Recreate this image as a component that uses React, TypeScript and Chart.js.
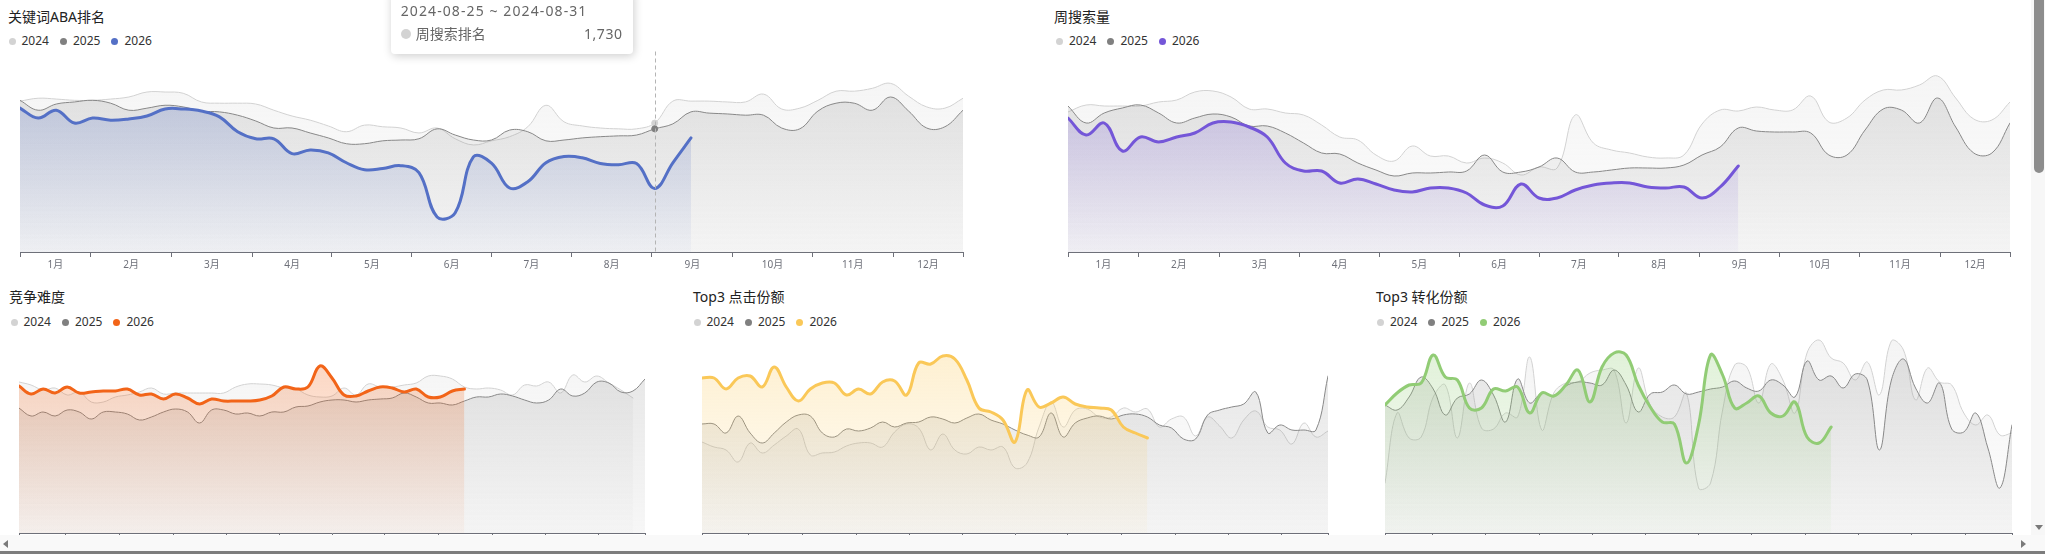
import React, { useEffect, useRef } from 'react';
import { Chart, registerables } from 'chart.js';

Chart.register(...registerables);

const FONT = '"Noto Sans", "Noto Sans CJK SC", sans-serif';
Chart.defaults.font.family = FONT;

// ---------------- data ----------------
const yearLabels = ['2024', '2025', '2026'];
const monthLabels = ['1月', '2月', '3月', '4月', '5月', '6月', '7月', '8月', '9月', '10月', '11月', '12月'];
// month boundaries, in weeks from the start of the year
const monthStartWeeks = [0, 3.9, 8.35, 12.8, 17.2, 21.6, 26.0, 30.4, 34.85, 39.3, 43.7, 48.15, 52];

// 关键词ABA排名 (weekly rank, smaller = better)
const abaRank2024 = [1200, 1130, 1150, 1180, 1180, 1150, 1100, 980, 980, 1010, 1220, 1250, 1250, 1270, 1420, 1560, 1660, 1800, 1940, 1780, 1820, 1850, 1970, 1850, 2110, 2260, 2160, 2060, 1820, 1300, 1700, 1800, 1850, 1870, 1870, 1730, 1200, 1200, 1200, 1220, 1220, 1030, 1390, 1370, 1180, 960, 960, 890, 770, 1080, 1340, 1370, 1130];
const abaRank2025 = [1180, 1420, 1270, 1220, 1180, 1250, 1420, 1370, 1300, 1340, 1440, 1460, 1540, 1680, 1850, 1850, 1970, 2090, 2230, 2230, 2160, 2140, 2110, 1870, 2020, 2140, 2140, 1900, 1940, 2160, 2140, 2090, 2060, 2040, 2020, 1870, 1750, 1460, 1490, 1510, 1540, 1540, 1850, 1870, 1440, 1250, 1250, 1420, 1100, 1440, 1850, 1820, 1420];
const abaRank2026 = [1370, 1610, 1420, 1730, 1610, 1660, 1630, 1560, 1390, 1390, 1440, 1580, 1940, 2110, 2110, 2470, 2380, 2450, 2690, 2860, 2830, 2760, 2930, 4000, 3900, 2550, 2700, 3300, 3150, 2690, 2540, 2570, 2710, 2740, 2710, 3310, 2690, 2090];

// 周搜索量
const searchVol2024 = [70000, 73500, 73000, 73000, 73000, 75000, 76000, 80000, 80500, 77500, 71500, 71500, 69500, 68500, 63500, 57500, 56000, 48500, 45500, 53000, 48000, 48000, 44500, 47000, 44500, 38500, 42500, 42000, 68500, 54500, 51000, 49500, 47500, 47000, 48500, 64000, 71000, 70500, 72500, 71000, 71000, 78000, 65000, 67000, 76000, 81000, 81000, 83500, 88000, 77000, 66500, 66000, 75000];
const searchVol2025 = [73000, 64500, 69500, 72000, 73500, 69500, 64500, 67000, 69000, 67500, 63000, 63000, 59500, 54500, 49500, 49000, 44500, 41000, 38000, 39500, 39500, 40000, 40500, 48500, 40000, 40000, 42500, 47000, 40000, 40000, 41000, 42000, 42000, 42000, 43500, 48500, 52500, 62000, 60500, 60000, 60000, 59500, 48500, 48500, 61000, 71500, 71000, 64500, 77000, 62500, 49500, 49500, 64500];
const searchVol2026 = [67000, 58500, 64500, 50500, 57500, 55000, 57500, 59500, 64500, 65000, 62500, 57500, 44500, 40500, 40500, 34500, 36500, 34000, 31000, 30000, 32000, 32000, 29500, 23500, 23000, 34000, 27000, 27000, 31000, 33500, 34500, 34500, 32500, 32000, 32500, 27000, 32500, 43000];

// 竞争难度
const competition2024 = [75.5, 74, 71.5, 72.5, 69, 70.5, 65.5, 65.5, 68, 69, 70.5, 72.5, 69.5, 70, 70, 70, 70, 70, 73, 74.5, 74.5, 74, 72.5, 72, 69, 68, 68.5, 72.5, 69, 74.5, 73, 73, 74, 75, 78.5, 78.5, 77, 73, 72, 72.5, 71.5, 69, 74, 73.5, 75.5, 70, 79, 75.5, 78.5, 75, 71.5, 67.5];
const competition2025 = [62.5, 58.5, 60.5, 58.5, 61.5, 60.5, 57, 60.5, 60.5, 59.5, 56.5, 58, 60.5, 62, 60.5, 55, 61.5, 61.5, 59.5, 60, 58.5, 60.5, 60.5, 63, 63.5, 65.5, 66.5, 66.5, 65.5, 66.5, 67, 67.5, 70, 68, 65, 65, 64, 66, 68, 68, 69.5, 68.5, 66.5, 65, 66.5, 72, 68.5, 70, 75.5, 75, 70.5, 71, 77];
const competition2026 = [73.5, 69.5, 72, 70, 73, 70, 70.5, 71, 71, 72, 69, 69.5, 67, 69.5, 67.5, 64.5, 67, 66, 66, 66, 66.5, 68.5, 73, 72, 73, 83.5, 77.5, 69, 68.5, 71, 73, 72.5, 70.5, 72, 68, 68, 71, 72];

// Top3 点击份额
const clickShare2024 = [45.5, 43, 41.5, 35.5, 45, 40, 44, 48.5, 52, 39, 40, 40.5, 43.5, 45, 45, 43, 50.5, 54.5, 52.5, 41.5, 49.5, 41.5, 39.5, 43, 41.5, 43, 32.5, 35, 53, 65.5, 53, 61.5, 62, 58, 58, 62.5, 60.5, 62, 53, 57, 58, 48.5, 58, 53.5, 47.5, 56.5, 61, 53, 51.5, 44.5, 55, 48, 51];
const clickShare2025 = [54.5, 54.5, 50, 58.5, 50, 45, 50, 55.5, 59, 58.5, 50, 48, 52, 51, 52.5, 55.5, 53, 55, 55.5, 58, 57, 55, 57.5, 59.5, 56.5, 54.5, 51.5, 49, 48, 60, 48, 55, 57.5, 58.5, 57, 59, 59.5, 58, 54, 52.5, 47, 47, 59, 61.5, 63, 64.5, 70.5, 50, 54, 51.5, 51.5, 51.5, 78.5];
const clickShare2026 = [77.5, 77.5, 72, 77.5, 78.5, 73, 83, 73, 66, 72, 75, 75, 69, 72, 69.5, 75.5, 76, 69, 85, 84.5, 88.5, 87, 76.5, 62.5, 60.5, 56.5, 45.5, 71.5, 63, 65, 68, 64.5, 63, 62.5, 61.5, 53, 50, 47.5];

// Top3 转化份额
const convShare2024 = [25, 60, 47.5, 48, 68, 74, 47.5, 75, 52.5, 52, 60, 58, 88, 51.5, 70, 75, 75.5, 80, 81.5, 81.5, 55, 82.5, 64, 58, 58, 70, 22.5, 25, 61.5, 84, 83, 65, 84.5, 76.5, 60, 90, 96.5, 87.5, 85, 76.5, 85.5, 69, 96, 91.5, 66.5, 82.5, 75.5, 74, 60, 54, 59, 49, 50];
const convShare2025 = [64, 61.5, 68, 78, 72, 59, 67.5, 69.5, 76.5, 69, 55.5, 77, 65, 70, 68.5, 73.5, 75.5, 75, 74, 81.5, 74, 60.5, 69.5, 70.5, 74, 69.5, 70.5, 72, 73, 76, 72.5, 71, 76.5, 74, 68, 86, 76.5, 78.5, 72.5, 79.5, 76.5, 41.5, 76.5, 87, 72.5, 65, 75, 52, 50.5, 60, 42.5, 22.5, 54];
const convShare2026 = [64, 70, 74, 75, 89, 78, 76.5, 62.5, 62.5, 72, 71, 73, 60, 70, 68.5, 74, 81.5, 65.5, 83, 90, 89, 74, 63, 55.5, 54.5, 35, 54, 89, 79, 62.5, 65, 68.5, 60, 58.5, 65.5, 48, 45, 53];

// hovered week in the rank chart
const hoverIndex = 35;
const hoverWeekLabel = '2024-08-25 ~ 2024-08-31';
const hoverSeriesName = '周搜索排名';

// ---------------- chart ----------------
const AXIS = '#6E7079';
const DOT_COLORS = ['#d3d3d3', '#808080'];

interface PanelProps {
  title: string;
  titleLeft: number;
  titleTop: number;
  legendLeft: number;
  legendTop: number;
  plotLeft: number;
  plotTop: number;
  plotWidth: number;
  plotHeight: number;
  yMin: number;
  yMax: number;
  reverse?: boolean;
  accent: string;
  accentRgb: string;
  values: number[][];
  hover?: { index: number; title: string; name: string };
}

const AXIS_H = 20;

function gradient(rgb: string, a0: number, a1: number) {
  return (ctx: any) => {
    const chart = ctx.chart;
    const area = chart.chartArea;
    if (!area) return `rgba(${rgb},${a0})`;
    const g = chart.ctx.createLinearGradient(0, area.top, 0, area.bottom);
    g.addColorStop(0, `rgba(${rgb},${a0})`);
    g.addColorStop(1, `rgba(${rgb},${a1})`);
    return g;
  };
}

const crosshair = {
  id: 'crosshair',
  afterDatasetsDraw(chart: any) {
    const tip = chart.tooltip;
    const act = tip && tip.getActiveElements ? tip.getActiveElements() : [];
    if (!act || !act.length) return;
    const x = Math.round(act[0].element.x) + 0.5;
    const { top, bottom } = chart.chartArea;
    const c = chart.ctx;
    c.save();
    c.strokeStyle = '#b4b4b4';
    c.lineWidth = 1;
    c.setLineDash([4, 3]);
    c.beginPath();
    c.moveTo(x, top);
    c.lineTo(x, bottom);
    c.stroke();
    c.restore();
  },
};

function Legend({ left, top, accent }: { left: number; top: number; accent: string }) {
  const colors = [...DOT_COLORS, accent];
  return (
    <div
      style={{
        position: 'absolute',
        left,
        top,
        display: 'flex',
        alignItems: 'center',
        font: `12px ${FONT}`,
        lineHeight: '16px',
        color: '#333',
        whiteSpace: 'nowrap',
      }}
    >
      {yearLabels.map((y, k) => (
        <span key={y} style={{ display: 'inline-flex', alignItems: 'center', marginRight: 11 }}>
          <span
            style={{
              display: 'inline-block',
              width: 7,
              height: 7,
              borderRadius: '50%',
              background: colors[k],
              marginRight: 6,
            }}
          />
          {y}
        </span>
      ))}
    </div>
  );
}

function Panel(p: PanelProps) {
  const canvasRef = useRef<HTMLCanvasElement>(null);
  const tipRef = useRef<HTMLDivElement>(null);

  useEffect(() => {
    const canvas = canvasRef.current;
    if (!canvas) return;
    const styles = [
      { line: '#d2d2d2', rgb: '200,200,200', a0: 0.2, a1: 0.05, w: 1, order: 2, hover: '#d3d3d3' },
      { line: '#888888', rgb: '140,140,140', a0: 0.24, a1: 0.07, w: 1, order: 1, hover: '#7f7f7f' },
      { line: p.accent, rgb: p.accentRgb, a0: 0.3, a1: 0.04, w: 3, order: 0, hover: p.accent },
    ];
    const fillTarget: any = p.reverse ? { value: p.yMax } : 'origin';
    const datasets = p.values.map((vals, k) => ({
      label: yearLabels[k],
      data: vals.map((v, i) => ({ x: i, y: v })),
      borderColor: styles[k].line,
      borderWidth: styles[k].w,
      backgroundColor: gradient(styles[k].rgb, styles[k].a0, styles[k].a1),
      fill: fillTarget,
      tension: 0.4,
      pointRadius: 0,
      pointHoverRadius: k === 2 ? 0 : 3,
      pointHoverBorderWidth: 1,
      pointHoverBackgroundColor: styles[k].hover,
      pointHoverBorderColor: styles[k].hover,
      borderJoinStyle: 'round' as const,
      borderCapStyle: 'round' as const,
      order: styles[k].order,
    }));

    const chart = new Chart(canvas, {
      type: 'line',
      data: { datasets },
      plugins: p.hover ? [crosshair] : [],
      options: {
        animation: false,
        responsive: false,
        maintainAspectRatio: false,
        devicePixelRatio: 1,
        locale: 'en-US',
        events: [],
        layout: { padding: 0 },
        plugins: {
          legend: { display: false },
          title: { display: false },
          tooltip: {
            enabled: false,
            external: ({ tooltip }: any) => {
              const el = tipRef.current;
              if (!el || !p.hover) return;
              const pts = tooltip.dataPoints || [];
              if (!pts.length) {
                el.style.display = 'none';
                return;
              }
              const dp = pts[0];
              (el.querySelector('[data-r="title"]') as HTMLElement).textContent = p.hover.title;
              (el.querySelector('[data-r="name"]') as HTMLElement).textContent = p.hover.name;
              (el.querySelector('[data-r="value"]') as HTMLElement).textContent = dp.formattedValue;
              (el.querySelector('[data-r="dot"]') as HTMLElement).style.background =
                dp.datasetIndex < 2 ? DOT_COLORS[dp.datasetIndex] : p.accent;
              el.style.display = 'block';
              const x = p.plotLeft + tooltip.caretX;
              el.style.left = `${x - 22 - el.offsetWidth}px`;
              el.style.top = `${p.plotTop + 4 - el.offsetHeight}px`;
            },
          },
        },
        scales: {
          x: {
            type: 'linear',
            min: 0,
            max: 52,
            afterBuildTicks: (scale: any) => {
              const t: any[] = [];
              monthStartWeeks.forEach((b, i) => {
                t.push({ value: b });
                if (i < monthLabels.length) t.push({ value: (b + monthStartWeeks[i + 1]) / 2 });
              });
              scale.ticks = t;
            },
            afterFit: (scale: any) => {
              scale.height = AXIS_H;
            },
            ticks: {
              autoSkip: false,
              maxRotation: 0,
              minRotation: 0,
              padding: 2,
              color: AXIS,
              font: { size: 10, family: FONT },
              callback: (_v: any, index: number) => (index % 2 === 1 ? monthLabels[(index - 1) / 2] : ''),
            },
            grid: {
              display: true,
              drawOnChartArea: false,
              drawTicks: true,
              tickLength: 5,
              tickWidth: 1,
              tickColor: (ctx: any) => (ctx.index % 2 === 0 ? AXIS : 'rgba(0,0,0,0)'),
            },
            border: { display: true, color: AXIS, width: 1 },
          },
          y: {
            type: 'linear',
            display: false,
            min: p.yMin,
            max: p.yMax,
            reverse: !!p.reverse,
          },
        },
      } as any,
    });

    if (p.hover) {
      const idx = p.hover.index;
      chart.setActiveElements([
        { datasetIndex: 0, index: idx },
        { datasetIndex: 1, index: idx },
      ]);
      const el: any = chart.getDatasetMeta(0).data[idx];
      chart.tooltip!.setActiveElements([{ datasetIndex: 0, index: idx }], { x: el.x, y: el.y });
      chart.update();
    }

    return () => chart.destroy();
  }, []);

  const h = p.plotHeight + AXIS_H;
  return (
    <>
      <div
        style={{
          position: 'absolute',
          left: p.titleLeft,
          top: p.titleTop,
          font: `14px ${FONT}`,
          lineHeight: '20px',
          color: '#222',
          whiteSpace: 'nowrap',
        }}
      >
        {p.title}
      </div>
      <Legend left={p.legendLeft} top={p.legendTop} accent={p.accent} />
      <canvas
        ref={canvasRef}
        width={p.plotWidth}
        height={h}
        style={{ position: 'absolute', left: p.plotLeft, top: p.plotTop, width: p.plotWidth, height: h }}
      />
      {p.hover && (
        <div
          ref={tipRef}
          style={{
            position: 'absolute',
            display: 'none',
            width: 222,
            padding: 10,
            background: '#fff',
            borderRadius: 4,
            boxShadow: '1px 2px 10px rgba(0,0,0,0.2)',
            font: `14px ${FONT}`,
            lineHeight: '21px',
            color: '#666',
            zIndex: 5,
            whiteSpace: 'nowrap',
          }}
        >
          <div data-r="title" style={{ letterSpacing: '1.1px' }} />
          <div style={{ display: 'flex', alignItems: 'center', marginTop: 2 }}>
            <span
              data-r="dot"
              style={{ display: 'inline-block', width: 10, height: 10, borderRadius: 5, marginRight: 5 }}
            />
            <span data-r="name" />
            <span data-r="value" style={{ marginLeft: 'auto', letterSpacing: '0.6px' }} />
          </div>
        </div>
      )}
    </>
  );
}

function Scrollbars() {
  const tri = (style: React.CSSProperties) => (
    <div style={{ position: 'absolute', width: 0, height: 0, ...style }} />
  );
  return (
    <div aria-hidden="true">
      <div style={{ position: 'absolute', left: 2031, top: 0, width: 14, height: 535, background: '#f7f7f7' }} />
      <div
        style={{
          position: 'absolute',
          left: 2034,
          top: -6,
          width: 10,
          height: 179,
          borderRadius: 5,
          background: '#8d8d8d',
        }}
      />
      {tri({
        left: 2035,
        top: 525,
        borderLeft: '4px solid transparent',
        borderRight: '4px solid transparent',
        borderTop: '5px solid #7a7a7a',
      })}
      <div style={{ position: 'absolute', left: 0, top: 535, width: 2045, height: 16, background: '#f9f9f9' }} />
      {tri({
        left: 3,
        top: 540,
        borderTop: '4px solid transparent',
        borderBottom: '4px solid transparent',
        borderRight: '5px solid #7a7a7a',
      })}
      {tri({
        left: 2021,
        top: 540,
        borderTop: '4px solid transparent',
        borderBottom: '4px solid transparent',
        borderLeft: '5px solid #7a7a7a',
      })}
      <div style={{ position: 'absolute', left: 0, top: 551, width: 2045, height: 3, background: '#7d7d7d' }} />
    </div>
  );
}

export default function App() {
  return (
    <div
      style={{
        position: 'relative',
        width: 2045,
        height: 554,
        overflow: 'hidden',
        background: '#fff',
        fontFamily: FONT,
      }}
    >
      <style>{'html,body{margin:0;padding:0;overflow:hidden;background:#fff}'}</style>
      <Panel
        title="关键词ABA排名"
        titleLeft={8}
        titleTop={7}
        legendLeft={8.5}
        legendTop={33}
        plotLeft={18}
        plotTop={50}
        plotWidth={947}
        plotHeight={202}
        yMin={0}
        yMax={4848}
        reverse
        accent="#5470c6"
        accentRgb="84,112,198"
        values={[abaRank2024, abaRank2025, abaRank2026]}
        hover={{ index: hoverIndex, title: hoverWeekLabel, name: hoverSeriesName }}
      />
      <Panel
        title="周搜索量"
        titleLeft={1054}
        titleTop={7}
        legendLeft={1056}
        legendTop={33}
        plotLeft={1066}
        plotTop={52}
        plotWidth={946}
        plotHeight={200}
        yMin={0}
        yMax={100000}
        accent="#7456d8"
        accentRgb="116,86,216"
        values={[searchVol2024, searchVol2025, searchVol2026]}
      />
      <Panel
        title="竞争难度"
        titleLeft={9}
        titleTop={287}
        legendLeft={10.5}
        legendTop={314}
        plotLeft={17}
        plotTop={333}
        plotWidth={630}
        plotHeight={200}
        yMin={0}
        yMax={100}
        accent="#f26418"
        accentRgb="242,100,24"
        values={[competition2024, competition2025, competition2026]}
      />
      <Panel
        title="Top3 点击份额"
        titleLeft={693}
        titleTop={287}
        legendLeft={693.5}
        legendTop={314}
        plotLeft={700}
        plotTop={333}
        plotWidth={630}
        plotHeight={200}
        yMin={0}
        yMax={100}
        accent="#fac858"
        accentRgb="250,200,88"
        values={[clickShare2024, clickShare2025, clickShare2026]}
      />
      <Panel
        title="Top3 转化份额"
        titleLeft={1376}
        titleTop={287}
        legendLeft={1377}
        legendTop={314}
        plotLeft={1383}
        plotTop={333}
        plotWidth={631}
        plotHeight={200}
        yMin={0}
        yMax={100}
        accent="#91cc75"
        accentRgb="145,204,117"
        values={[convShare2024, convShare2025, convShare2026]}
      />
      <Scrollbars />
    </div>
  );
}
